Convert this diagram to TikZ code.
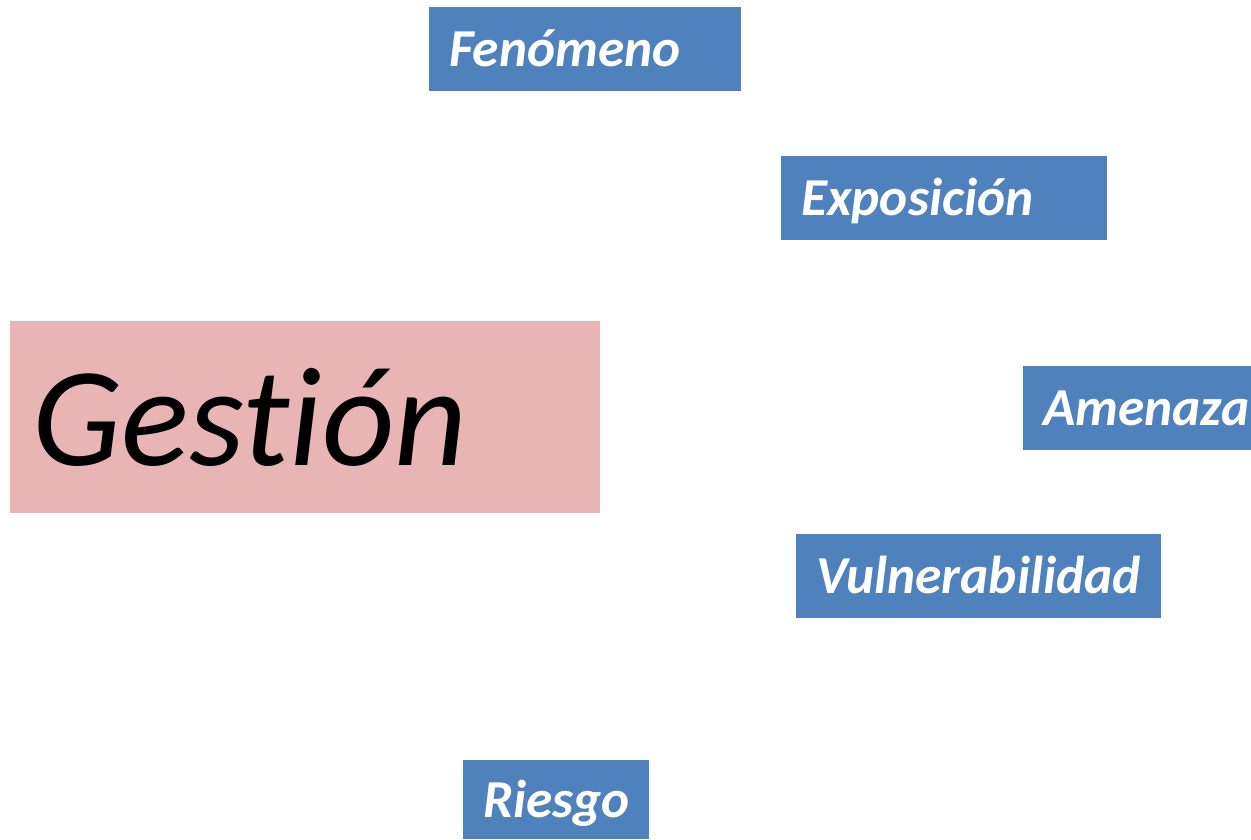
\documentclass[tikz,border=0pt]{standalone}
\usepackage{fontspec}
\setmainfont{Carlito}[Ligatures=NoCommon]
\definecolor{boxblue}{RGB}{79,129,189}
\definecolor{boxpink}{RGB}{233,180,180}

\tikzset{
  concept/.style={fill=boxblue, text=white, anchor=north west,
    font=\fontsize{40}{48}\selectfont\bfseries\itshape,
    inner xsep=15pt, inner ysep=0pt, align=left,
    text height=26pt, text depth=0pt, minimum height=63pt},
  topic/.style={fill=boxpink, text=black, anchor=north west,
    font=\fontsize{106}{120}\selectfont\itshape,
    inner xsep=0pt, inner ysep=0pt, align=left,
    minimum height=144pt}
}

\begin{document}
\begin{tikzpicture}[x=0.75pt,y=-0.75pt]
    % Marco de la figura
    \useasboundingbox (0,0) rectangle (1251,839);

    % Concepto central
    \node[topic, text width=442.5pt, text height=72pt, text depth=0pt]
      (gestion) at (10,321) {\hspace*{16.5pt}Gesti\'on};

    % Conceptos alrededor
    \node[concept, text width=204pt] (fenomeno) at (429,7) {Fen\'omeno};
    \node[concept, text width=214.5pt] (exposicion) at (781,156) {Exposici\'on};
    \node[concept, text width=141pt] (amenaza) at (1023,366) {Amenaza};
    \node[concept, text width=243.75pt] (vulnerabilidad) at (796,534) {Vulnerabilidad};
    \node[concept, text width=109.5pt, minimum height=59.25pt] (riesgo) at (463,760) {Riesgo};
\end{tikzpicture}
\end{document}
